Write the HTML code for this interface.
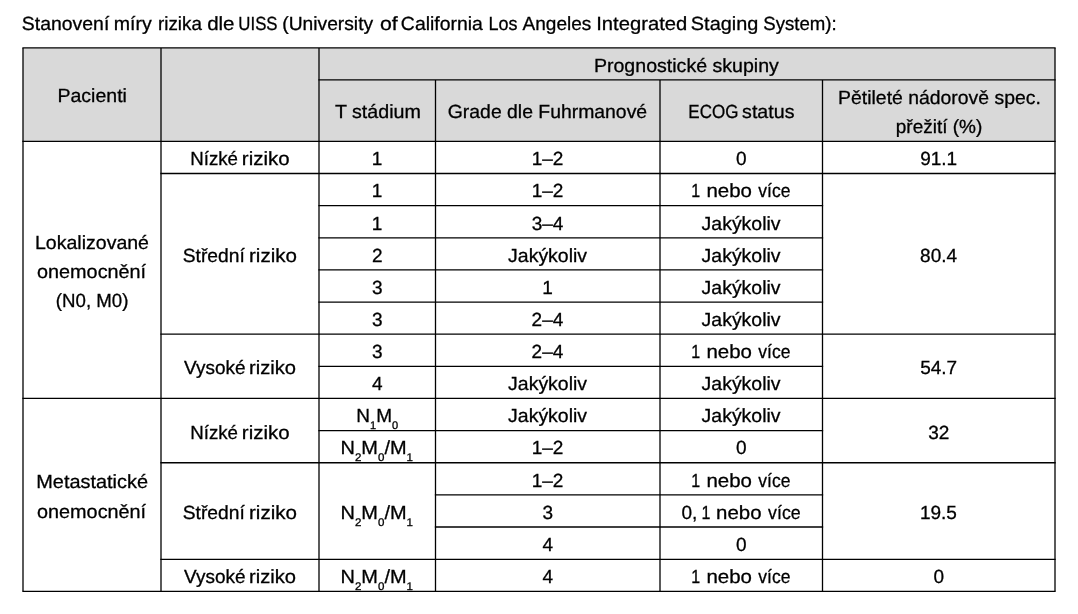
<!DOCTYPE html>
<html lang="cs">
<head>
<meta charset="utf-8">
<title>Stanovení míry rizika dle UISS</title>
<style>
html,body{margin:0;padding:0;background:#fff;}
body{width:1078px;height:614px;overflow:hidden;}
svg{display:block;}
text{font-family:"Liberation Sans",sans-serif;fill:#000;stroke:#000;stroke-width:0.3;text-rendering:geometricPrecision;}
.g line{stroke:#000;stroke-width:1.3;}
</style>
</head>
<body>
<svg width="1078" height="614" viewBox="0 0 1078 614" role="img" aria-label="Stanovení míry rizika dle UISS">
<rect x="0" y="0" width="1078" height="614" fill="#fff"/>
<rect x="23" y="47.9" width="1032" height="93.47" fill="#d9d9d9"/>
<g class="g">
<line x1="22.35" y1="47.9" x2="1055.65" y2="47.9"/>
<line x1="318.35" y1="79.95" x2="1055.65" y2="79.95"/>
<line x1="22.35" y1="141.37" x2="1055.65" y2="141.37"/>
<line x1="160.35" y1="173.51" x2="1055.65" y2="173.51"/>
<line x1="318.35" y1="205.64" x2="823.15" y2="205.64"/>
<line x1="318.35" y1="237.78" x2="823.15" y2="237.78"/>
<line x1="318.35" y1="269.92" x2="823.15" y2="269.92"/>
<line x1="318.35" y1="302.06" x2="823.15" y2="302.06"/>
<line x1="160.35" y1="334.19" x2="1055.65" y2="334.19"/>
<line x1="318.35" y1="366.33" x2="823.15" y2="366.33"/>
<line x1="22.35" y1="398.47" x2="1055.65" y2="398.47"/>
<line x1="318.35" y1="430.6" x2="823.15" y2="430.6"/>
<line x1="160.35" y1="462.74" x2="1055.65" y2="462.74"/>
<line x1="434.85" y1="494.88" x2="823.15" y2="494.88"/>
<line x1="434.85" y1="527.01" x2="823.15" y2="527.01"/>
<line x1="160.35" y1="559.35" x2="1055.65" y2="559.35"/>
<line x1="22.35" y1="591.29" x2="1055.65" y2="591.29"/>
<line x1="23" y1="47.9" x2="23" y2="591.29"/>
<line x1="161" y1="47.9" x2="161" y2="591.29"/>
<line x1="319" y1="47.9" x2="319" y2="591.29"/>
<line x1="1055" y1="47.9" x2="1055" y2="591.29"/>
<line x1="435.5" y1="79.95" x2="435.5" y2="591.29"/>
<line x1="660" y1="79.95" x2="660" y2="591.29"/>
<line x1="822.5" y1="79.95" x2="822.5" y2="591.29"/>
</g>
<g font-size="19">
<text y="30"><tspan x="21.88" textLength="87.42" lengthAdjust="spacingAndGlyphs">Stanovení</tspan> <tspan x="113.68" textLength="38.03" lengthAdjust="spacingAndGlyphs">míry</tspan> <tspan x="158.03" textLength="43.81" lengthAdjust="spacingAndGlyphs">rizika</tspan> <tspan x="207.16" textLength="27.38" lengthAdjust="spacingAndGlyphs">dle</tspan> <tspan x="238.37" textLength="39.21" lengthAdjust="spacingAndGlyphs">UISS</tspan> <tspan x="282.26" textLength="90.84" lengthAdjust="spacingAndGlyphs">(University</tspan> <tspan x="379.93" textLength="17.76" lengthAdjust="spacingAndGlyphs">of</tspan> <tspan x="400.86" textLength="81.99" lengthAdjust="spacingAndGlyphs">California</tspan> <tspan x="488.46" textLength="29" lengthAdjust="spacingAndGlyphs">Los</tspan> <tspan x="522.54" textLength="68.79" lengthAdjust="spacingAndGlyphs">Angeles</tspan> <tspan x="596.24" textLength="91.07" lengthAdjust="spacingAndGlyphs">Integrated</tspan> <tspan x="690.86" textLength="67.39" lengthAdjust="spacingAndGlyphs">Staging</tspan> <tspan x="763.22" textLength="73.48" lengthAdjust="spacingAndGlyphs">System):</tspan></text>
<text transform="matrix(1.0265 0 0 1 57.5 102)">Pacienti</text>
<text transform="matrix(1.0303 0 0 1 593.9 72)">Prognostické skupiny</text>
<text transform="matrix(1.0363 0 0 1 334.88 118)">T stádium</text>
<text transform="matrix(1.0202 0 0 1 447.79 118)">Grade dle Fuhrmanové</text>
<text y="118"><tspan x="688.35" textLength="50.05" lengthAdjust="spacingAndGlyphs">ECOG</tspan> <tspan x="742.12" textLength="52.36" lengthAdjust="spacingAndGlyphs">status</tspan></text>
<text transform="matrix(1.0209 0 0 1 838.11 104)">Pětileté nádorově spec.</text>
<text transform="matrix(1.0007 0 0 1 895.73 133)">přežití (%)</text>
<text transform="matrix(1.0277 0 0 1 35 249)">Lokalizované</text>
<text transform="matrix(1.0427 0 0 1 37.06 278)">onemocnění</text>
<text transform="matrix(0.9829 0 0 1 55.79 307)">(N0, M0)</text>
<text transform="matrix(1.0476 0 0 1 36.27 488)">Metastatické</text>
<text transform="matrix(1.0427 0 0 1 37.06 518)">onemocnění</text>
<text y="165"><tspan x="190.26" textLength="47.76" lengthAdjust="spacingAndGlyphs">Nízké</tspan> <tspan x="241.82" textLength="47.76" lengthAdjust="spacingAndGlyphs">riziko</tspan></text>
<text y="262"><tspan x="182.73" textLength="62.05" lengthAdjust="spacingAndGlyphs">Střední</tspan> <tspan x="249.01" textLength="47.97" lengthAdjust="spacingAndGlyphs">riziko</tspan></text>
<text y="374"><tspan x="184.02" textLength="61.54" lengthAdjust="spacingAndGlyphs">Vysoké</tspan> <tspan x="249.04" textLength="47.03" lengthAdjust="spacingAndGlyphs">riziko</tspan></text>
<text y="439"><tspan x="190.26" textLength="47.76" lengthAdjust="spacingAndGlyphs">Nízké</tspan> <tspan x="241.82" textLength="47.76" lengthAdjust="spacingAndGlyphs">riziko</tspan></text>
<text y="519"><tspan x="182.73" textLength="62.05" lengthAdjust="spacingAndGlyphs">Střední</tspan> <tspan x="249.01" textLength="47.97" lengthAdjust="spacingAndGlyphs">riziko</tspan></text>
<text y="583"><tspan x="184.02" textLength="61.54" lengthAdjust="spacingAndGlyphs">Vysoké</tspan> <tspan x="249.04" textLength="47.03" lengthAdjust="spacingAndGlyphs">riziko</tspan></text>
<text transform="matrix(1 0 0 1 371.72 165)">1</text>
<text transform="matrix(1 0 0 1 371.72 197)">1</text>
<text transform="matrix(1 0 0 1 371.72 230)">1</text>
<text transform="matrix(1 0 0 1 371.99 262)">2</text>
<text transform="matrix(1 0 0 1 372 294)">3</text>
<text transform="matrix(1 0 0 1 372 326)">3</text>
<text transform="matrix(1 0 0 1 372 358)">3</text>
<text transform="matrix(1 0 0 1 372 390)">4</text>
<text transform="matrix(1 0 0 1 531.65 165)">1–2</text>
<text transform="matrix(1 0 0 1 531.65 197)">1–2</text>
<text transform="matrix(1 0 0 1 531.64 230)">3–4</text>
<text transform="matrix(1.0244 0 0 1 508.09 262)">Jakýkoliv</text>
<text transform="matrix(1 0 0 1 542.22 294)">1</text>
<text transform="matrix(1 0 0 1 531.62 326)">2–4</text>
<text transform="matrix(1 0 0 1 531.62 358)">2–4</text>
<text transform="matrix(1.0244 0 0 1 508.09 390)">Jakýkoliv</text>
<text transform="matrix(1.0244 0 0 1 508.09 422)">Jakýkoliv</text>
<text transform="matrix(1 0 0 1 531.65 454)">1–2</text>
<text transform="matrix(1 0 0 1 531.65 487)">1–2</text>
<text transform="matrix(1 0 0 1 542.5 519)">3</text>
<text transform="matrix(1 0 0 1 542.5 551)">4</text>
<text transform="matrix(1 0 0 1 542.5 583)">4</text>
<text transform="matrix(1 0 0 1 736.05 165)">0</text>
<text y="197"><tspan x="691.3" textLength="8.89" lengthAdjust="spacingAndGlyphs">1</tspan> <tspan x="706.42" textLength="45.49" lengthAdjust="spacingAndGlyphs">nebo</tspan> <tspan x="758.32" textLength="32.12" lengthAdjust="spacingAndGlyphs">více</tspan></text>
<text transform="matrix(1.0244 0 0 1 701.59 230)">Jakýkoliv</text>
<text transform="matrix(1.0244 0 0 1 701.59 262)">Jakýkoliv</text>
<text transform="matrix(1.0244 0 0 1 701.59 294)">Jakýkoliv</text>
<text transform="matrix(1.0244 0 0 1 701.59 326)">Jakýkoliv</text>
<text y="358"><tspan x="691.3" textLength="8.89" lengthAdjust="spacingAndGlyphs">1</tspan> <tspan x="706.42" textLength="45.49" lengthAdjust="spacingAndGlyphs">nebo</tspan> <tspan x="758.32" textLength="32.12" lengthAdjust="spacingAndGlyphs">více</tspan></text>
<text transform="matrix(1.0244 0 0 1 701.59 390)">Jakýkoliv</text>
<text transform="matrix(1.0244 0 0 1 701.59 422)">Jakýkoliv</text>
<text transform="matrix(1 0 0 1 736.05 454)">0</text>
<text y="487"><tspan x="691.3" textLength="8.89" lengthAdjust="spacingAndGlyphs">1</tspan> <tspan x="706.42" textLength="45.49" lengthAdjust="spacingAndGlyphs">nebo</tspan> <tspan x="758.32" textLength="32.12" lengthAdjust="spacingAndGlyphs">více</tspan></text>
<text y="519"><tspan x="681.4" textLength="15.87" lengthAdjust="spacingAndGlyphs">0,</tspan> <tspan x="701.4" textLength="8.89" lengthAdjust="spacingAndGlyphs">1</tspan> <tspan x="716.12" textLength="45.49" lengthAdjust="spacingAndGlyphs">nebo</tspan> <tspan x="768.07" textLength="32.58" lengthAdjust="spacingAndGlyphs">více</tspan></text>
<text transform="matrix(1 0 0 1 736.05 551)">0</text>
<text y="583"><tspan x="691.3" textLength="8.89" lengthAdjust="spacingAndGlyphs">1</tspan> <tspan x="706.42" textLength="45.49" lengthAdjust="spacingAndGlyphs">nebo</tspan> <tspan x="758.32" textLength="32.12" lengthAdjust="spacingAndGlyphs">více</tspan></text>
<text transform="matrix(1 0 0 1 920.18 165)">91.1</text>
<text transform="matrix(1 0 0 1 920.11 262)">80.4</text>
<text transform="matrix(1 0 0 1 920.21 374)">54.7</text>
<text transform="matrix(1 0 0 1 928.22 439)">32</text>
<text transform="matrix(1 0 0 1 919.89 519)">19.5</text>
<text transform="matrix(1 0 0 1 933.55 583)">0</text>
<text transform="matrix(1 0 0 1 356.34 422)"><tspan x="0" y="0">N</tspan><tspan x="13.73" y="6.5" font-size="11">1</tspan><tspan x="19.86" y="0">M</tspan><tspan x="35.69" y="6.5" font-size="11">0</tspan></text>
<text transform="matrix(1.05 0 0 1 340.5 454)"><tspan x="0" y="0">N</tspan><tspan x="13.73" y="6.5" font-size="11">2</tspan><tspan x="19.86" y="0">M</tspan><tspan x="35.69" y="6.5" font-size="11">0</tspan><tspan x="41.81" y="0">/</tspan><tspan x="47.09" y="0">M</tspan><tspan x="62.92" y="6.5" font-size="11">1</tspan></text>
<text transform="matrix(1.05 0 0 1 340.5 519)"><tspan x="0" y="0">N</tspan><tspan x="13.73" y="6.5" font-size="11">2</tspan><tspan x="19.86" y="0">M</tspan><tspan x="35.69" y="6.5" font-size="11">0</tspan><tspan x="41.81" y="0">/</tspan><tspan x="47.09" y="0">M</tspan><tspan x="62.92" y="6.5" font-size="11">1</tspan></text>
<text transform="matrix(1.05 0 0 1 340.5 583)"><tspan x="0" y="0">N</tspan><tspan x="13.73" y="6.5" font-size="11">2</tspan><tspan x="19.86" y="0">M</tspan><tspan x="35.69" y="6.5" font-size="11">0</tspan><tspan x="41.81" y="0">/</tspan><tspan x="47.09" y="0">M</tspan><tspan x="62.92" y="6.5" font-size="11">1</tspan></text>
</g>
</svg>
</body>
</html>
